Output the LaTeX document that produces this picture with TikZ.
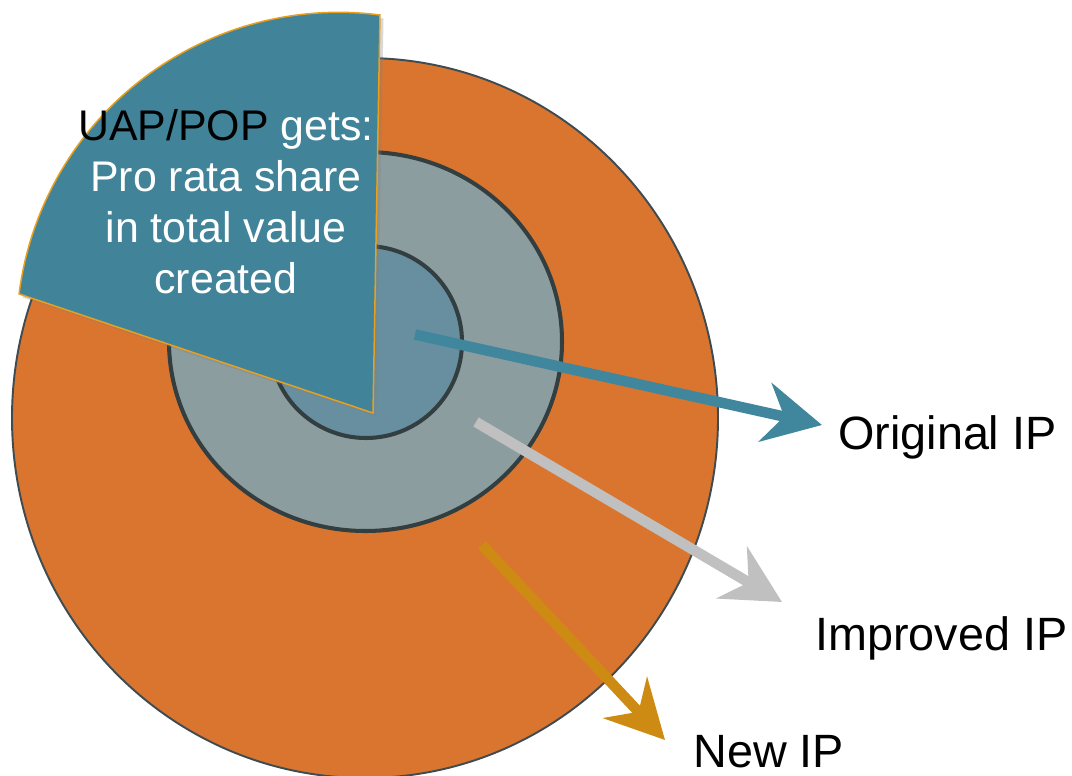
\documentclass[tikz,border=0pt]{standalone}
\usepackage{fontspec}
\setmainfont{Liberation Sans}
\usetikzlibrary{arrows.meta, shadows}

\definecolor{ringorange}{RGB}{218,117,47}
\definecolor{ringgray}{RGB}{140,157,160}
\definecolor{ringblue}{RGB}{103,143,160}
\definecolor{ringline}{RGB}{50,62,64}
\definecolor{edgegray}{RGB}{62,76,82}
\definecolor{sectorteal}{RGB}{65,132,153}
\definecolor{sectorgold}{RGB}{232,160,30}
\definecolor{arrowteal}{RGB}{64,135,157}
\definecolor{arrowgray}{RGB}{192,192,192}
\definecolor{arrowgold}{RGB}{206,139,20}

\begin{document}
\begin{tikzpicture}[x=0.02cm, y=-0.02cm,
        ring/.style = {
            draw=ringline,
            line width=2.3pt
        },
        ip_arrow/.style = {
            line width=6pt,
            -{Stealth[length=33pt, width=34pt, inset=11pt]}
        },
        ip_label/.style = {
            anchor=base west,
            inner sep=0pt,
            font=\fontsize{26.6}{30}\selectfont
        }
        ]

        \useasboundingbox (0,0) rectangle (1072,775);

        \filldraw[fill=ringorange, draw=edgegray, line width=1.1pt] (365,418) ellipse [x radius=353, y radius=360];
        \filldraw[ring, fill=ringgray] (365.5,341.5) ellipse [x radius=196.5, y radius=189.5];
        \filldraw[ring, fill=ringblue] (366,342) circle [radius=96];

        \filldraw[fill=sectorteal, draw=sectorgold, line width=0.85pt,
            drop shadow={shadow xshift=2pt, shadow yshift=-2pt, opacity=0.3}]
            (373,413) -- (380,15) arc [start angle=-82.6, end angle=-172.8, radius=322] -- cycle;

        \node (share_text) [anchor=base, align=center, text=white, inner sep=0pt,
            font=\fontsize{24.4}{28.9}\selectfont] at (226,293)
            {\textcolor{black}{UAP/POP} gets:\\Pro rata share\\in total value\\created};

        \coordinate (orig_tail) at (415,334.5);
        \coordinate (orig_tip) at (822,425);
        \coordinate (impr_tail) at (476,422);
        \coordinate (impr_tip) at (782,602);
        \coordinate (new_tail) at (482,545);
        \coordinate (new_tip) at (665,740);

        \node (orig_label) [ip_label] at (838,449) {Original IP};
        \node (impr_label) [ip_label] at (815,650) {Improved IP};
        \node (new_label) [ip_label] at (693,767) {New IP};

        \draw[ip_arrow, color=arrowteal] (orig_tail) -- (orig_tip);
        \draw[ip_arrow, color=arrowgray] (impr_tail) -- (impr_tip);
        \draw[ip_arrow, color=arrowgold] (new_tail) -- (new_tip);

\end{tikzpicture}
\end{document}
